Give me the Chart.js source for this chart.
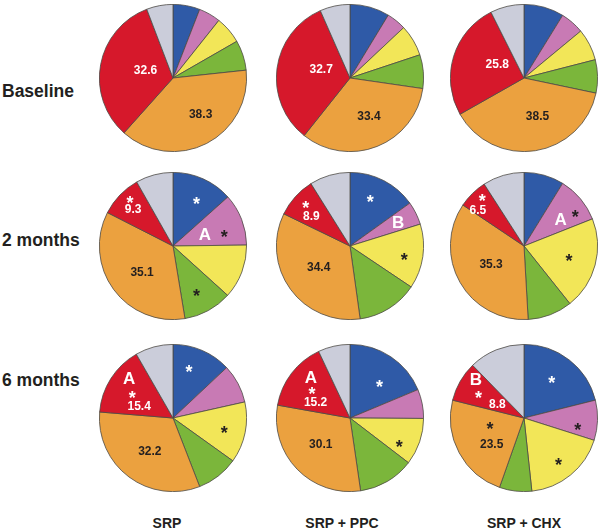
<!DOCTYPE html>
<html>
<head>
<meta charset="utf-8">
<script src="https://cdn.jsdelivr.net/npm/chart.js@4.4.1/dist/chart.umd.min.js"></script>
<style>
  html, body { margin: 0; padding: 0; background: #fff; }
  #wrap { position: relative; width: 600px; height: 529px; overflow: hidden;
          font-family: "Liberation Sans", Arial, sans-serif; font-weight: bold; color: #231f20; }
  .row { position: absolute; left: 2px; font-size: 17.5px; line-height: 1; }
  .col { position: absolute; top: 516px; font-size: 14px; line-height: 1; width: 120px; text-align: center; }
  canvas { position: absolute; }
</style>
</head>
<body>
<div id="wrap"></div>
<script>
// slice order, clockwise from 12 o'clock
const sliceNames = ['Blue', 'Pink', 'Yellow', 'Green', 'Orange', 'Red', 'Grey'];
const sliceColors = ['#2f5aa7', '#c87ab4', '#f2e658', '#7bb63b', '#eba13f', '#d6182b', '#cbcdda'];

const rowLabels = ['Baseline', '2 months', '6 months'];
const colLabels = ['SRP', 'SRP + PPC', 'SRP + CHX'];

// percentages per slice
const baselineSRP = [5.9, 4.8, 6.0, 6.6, 38.3, 32.6, 5.8];
const baselinePPC = [8.7, 4.3, 6.9, 7.4, 33.4, 32.7, 6.6];
const baselineCHX = [8.8, 5.2, 7.0, 7.3, 38.5, 25.8, 7.4];
const month2SRP = [13.4, 11.4, 11.9, 10.7, 35.1, 9.3, 8.2];
const month2PPC = [15.1, 5.1, 14.2, 13.4, 34.4, 8.9, 8.9];
const month2CHX = [8.8, 10.2, 20.3, 9.8, 35.3, 6.5, 9.1];
const month6SRP = [13.0, 8.5, 13.4, 9.2, 32.2, 15.4, 8.3];
const month6PPC = [18.7, 6.4, 10.3, 12.3, 30.1, 15.2, 7.0];
const month6CHX = [21.1, 8.8, 18.4, 7.1, 23.5, 8.8, 12.3];

const grid = [
  [baselineSRP, baselinePPC, baselineCHX],
  [month2SRP, month2PPC, month2CHX],
  [month6SRP, month6PPC, month6CHX]
];

// in-slice annotations: [slice, text, white?, angle shift (deg), radius fraction]
const notes = [
  [
    [[5, '32.6', 1, 6.5, 0.39], [4, '38.3', 0, -10.8, 0.61]],
    [[5, '32.7', 1, 9.6, 0.41], [4, '33.4', 0, -5.2, 0.57]],
    [[5, '25.8', 1, 10.8, 0.41], [4, '38.5', 0, -11, 0.54]]
  ],
  [
    [[0, '*', 1, 2.9, 0.70], [1, 'A', 1, 1, 0.46], [1, '*', 0, 6.5, 0.72], [3, '*', 0, 1.4, 0.70],
     [4, '35.1', 0, -4.1, 0.55], [5, '*', 1, 3.6, 0.86], [5, '9.3', 1, -0.9, 0.74]],
    [[0, '*', 1, -4.5, 0.71], [1, 'B', 1, -0.1, 0.73], [2, '*', 0, 1.7, 0.75],
     [4, '34.4', 0, 2.6, 0.51], [5, '*', 1, 1.8, 0.83], [5, '8.9', 1, -3.4, 0.67]],
    [[1, 'A', 1, 3.6, 0.62], [1, '*', 0, 7.2, 0.83], [2, '*', 0, -1.6, 0.63],
     [4, '35.3', 0, 0.9, 0.51], [5, '*', 1, 3.9, 0.87], [5, '6.5', 1, -7.1, 0.80]]
  ],
  [
    [[0, '*', 1, -5.7, 0.72], [2, '*', 0, 0.4, 0.71], [4, '32.2', 0, -1.1, 0.54],
     [5, 'A', 1, 9.6, 0.80], [5, '*', 1, -2.1, 0.64], [5, '15.4', 1, -12.1, 0.49]],
    [[0, '*', 1, 6.8, 0.62], [2, '*', 0, 7.8, 0.75], [4, '30.1', 0, 2.6, 0.53],
     [5, 'A', 1, 9, 0.77], [5, '*', 1, -1.1, 0.64], [5, '15.2', 1, -11.5, 0.52]],
    [[0, '*', 1, -2.5, 0.65], [1, '*', 0, 7.1, 0.74], [2, '*', 0, 0.4, 0.75], [4, '*', 0, 17, 0.47],
     [4, '23.5', 0, -10, 0.56], [5, 'B', 1, 9.1, 0.84], [5, '*', 1, -1.8, 0.70], [5, '8.8', 1, -1.6, 0.41]]
  ]
];

const centersX = [173, 350, 524];
const centersY = [78, 246, 418];
const rowLabelY = [83, 232, 372];
const size = 148;

const sliceNotes = {
  id: 'sliceNotes',
  afterDatasetsDraw(chart, args, opts) {
    const ctx = chart.ctx;
    const arcs = chart.getDatasetMeta(0).data;
    ctx.save();
    ctx.textAlign = 'center';
    opts.items.forEach(([i, text, white, shift, frac]) => {
      const arc = arcs[i];
      const a = (arc.startAngle + arc.endAngle) / 2 + shift * Math.PI / 180;
      const r = arc.outerRadius * frac;
      const x = arc.x + Math.cos(a) * r;
      const y = arc.y + Math.sin(a) * r;
      ctx.fillStyle = white ? '#ffffff' : '#231f20';
      if (text === '*') {
        ctx.font = 'bold 18px "Liberation Sans", Arial, sans-serif';
        ctx.textBaseline = 'alphabetic';
        ctx.fillText(text, x, y + 10);
      } else {
        const big = text === 'A' || text === 'B';
        ctx.font = 'bold ' + (big ? 17 : 12) + 'px "Liberation Sans", Arial, sans-serif';
        ctx.textBaseline = 'middle';
        ctx.fillText(text, x, y + 1);
      }
    });
    ctx.restore();
  }
};

const wrap = document.getElementById('wrap');

rowLabels.forEach((t, r) => {
  const d = document.createElement('div');
  d.className = 'row';
  d.style.top = rowLabelY[r] + 'px';
  d.textContent = t;
  wrap.appendChild(d);
});

colLabels.forEach((t, c) => {
  const d = document.createElement('div');
  d.className = 'col';
  d.style.left = (centersX[c] - 60 - (c === 0 ? 6 : c === 1 ? 8 : 0)) + 'px';
  d.textContent = t;
  wrap.appendChild(d);
});

grid.forEach((rowData, r) => {
  rowData.forEach((values, c) => {
    const cv = document.createElement('canvas');
    cv.width = size;
    cv.height = size;
    cv.style.left = (centersX[c] - size / 2) + 'px';
    cv.style.top = (centersY[r] - size / 2) + 'px';
    wrap.appendChild(cv);
    new Chart(cv.getContext('2d'), {
      type: 'pie',
      data: {
        labels: sliceNames,
        datasets: [{
          data: values,
          backgroundColor: sliceColors,
          borderColor: '#4d4a45',
          borderWidth: 0.8
        }]
      },
      options: {
        responsive: false,
        animation: false,
        layout: { padding: 0 },
        plugins: {
          legend: { display: false },
          tooltip: { enabled: false },
          sliceNotes: { items: notes[r][c] }
        }
      },
      plugins: [sliceNotes]
    });
  });
});
</script>
</body>
</html>
